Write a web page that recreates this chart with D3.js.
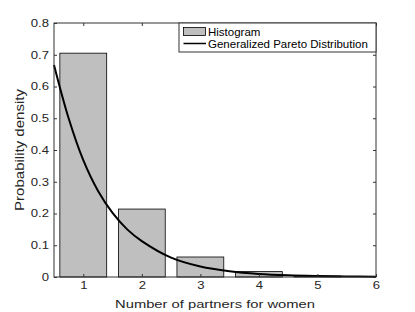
<!DOCTYPE html>
<html>
<head>
<meta charset="utf-8">
<script src="https://cdn.jsdelivr.net/npm/d3@7"></script>
<style>
  body { margin: 0; background: #fff; }
  svg { font-family: "Liberation Sans", Arial, sans-serif; }
</style>
</head>
<body>
<script>
// Chart data
const partners = [1, 2, 3, 4, 5];
const density = [0.705, 0.214, 0.063, 0.017, 0.003];
const binWidth = 0.8;

// Fitted generalized Pareto curve, sampled points
const fitX = [0.5, 0.75, 1.0, 1.25, 1.5, 1.75, 2.0, 2.5, 3.0, 3.5, 4.0, 4.5, 5.0, 5.5, 6.0];
const fitY = [0.668, 0.5, 0.368, 0.272, 0.202, 0.15, 0.113, 0.061, 0.033, 0.018, 0.0095, 0.0052, 0.003, 0.0017, 0.001];

const xTicks = [1, 2, 3, 4, 5, 6];
const yTicks = [0, 0.1, 0.2, 0.3, 0.4, 0.5, 0.6, 0.7, 0.8];

const width = 415;
const height = 312;
const margin = { top: 23, right: 39, bottom: 35, left: 54 };
const innerW = width - margin.left - margin.right;
const innerH = height - margin.top - margin.bottom;

const svg = d3.select("body")
  .append("svg")
  .attr("width", width)
  .attr("height", height);

const g = svg.append("g")
  .attr("transform", `translate(${margin.left},${margin.top})`);

const x = d3.scaleLinear().domain([0.5, 6]).range([0, innerW]);
const y = d3.scaleLinear().domain([0, 0.8]).range([innerH, 0]);

// Histogram bars
g.selectAll(".bar")
  .data(partners)
  .enter()
  .append("rect")
  .attr("class", "bar")
  .attr("x", (d) => x(d - binWidth / 2))
  .attr("y", (d, i) => y(density[i]))
  .attr("width", (d) => x(d + binWidth / 2) - x(d - binWidth / 2))
  .attr("height", (d, i) => y(0) - y(density[i]))
  .attr("fill", "#bfbfbf")
  .attr("stroke", "#000")
  .attr("stroke-width", 0.8);

// Fitted curve
const line = d3.line()
  .x((d) => x(d[0]))
  .y((d) => y(d[1]))
  .curve(d3.curveCatmullRom);

g.append("path")
  .datum(fitX.map((v, i) => [v, fitY[i]]))
  .attr("d", line)
  .attr("fill", "none")
  .attr("stroke", "#000")
  .attr("stroke-width", 2);

// Axes: ticks point inward on all four sides
const axisColor = "#333";
const fmtY = (d) => (d === 0 ? "0" : d3.format(".1f")(d));

const xAxis = g.append("g")
  .attr("transform", `translate(0,${innerH})`)
  .call(d3.axisBottom(x).tickValues(xTicks).tickSize(-3).tickPadding(5).tickFormat(d3.format("d")));
const xTop = g.append("g")
  .call(d3.axisTop(x).tickValues(xTicks).tickSize(-3).tickFormat(""));
const yAxis = g.append("g")
  .call(d3.axisLeft(y).tickValues(yTicks).tickSize(-3).tickPadding(4).tickFormat(fmtY));
const yRight = g.append("g")
  .attr("transform", `translate(${innerW},0)`)
  .call(d3.axisRight(y).tickValues(yTicks).tickSize(-3).tickFormat(""));

[xAxis, xTop, yAxis, yRight].forEach((a) => {
  a.select(".domain").remove();
  a.selectAll("line").attr("stroke", axisColor);
  a.selectAll("text")
    .attr("fill", "#262626")
    .attr("transform", "scale(1.25,1)") // the original glyphs are wide
    .style("font-size", "10.5px");
});

// Box around plot area
g.append("rect")
  .attr("width", innerW)
  .attr("height", innerH)
  .attr("fill", "none")
  .attr("stroke", axisColor)
  .attr("stroke-width", 1);

// Axis labels, stretched sideways to the width seen in the picture
function wideLabel(txt, size, len, cx, cy, angle) {
  const t = g.append("text")
    .attr("text-anchor", "middle")
    .attr("fill", "#262626")
    .style("font-size", size + "px")
    .text(txt);
  const k = len / t.node().getComputedTextLength();
  t.attr("transform", `translate(${cx},${cy}) rotate(${angle}) scale(${k},1)`);
}

wideLabel("Number of partners for women", 11.5, 200, innerW / 2, innerH + 31, 0);
wideLabel("Probability density", 12.6, 122, -29.7, innerH / 2, -90);

// Legend in the top right corner
const legendW = 197;
const legendH = 29;
const legend = g.append("g")
  .attr("transform", `translate(${innerW - legendW},0)`);

legend.append("rect")
  .attr("width", legendW)
  .attr("height", legendH)
  .attr("fill", "#fff")
  .attr("stroke", axisColor)
  .attr("stroke-width", 1);

legend.append("rect")
  .attr("x", 4.5)
  .attr("y", 4.5)
  .attr("width", 22)
  .attr("height", 8)
  .attr("fill", "#bfbfbf")
  .attr("stroke", "#000")
  .attr("stroke-width", 0.8);

legend.append("line")
  .attr("x1", 4.5)
  .attr("x2", 27)
  .attr("y1", 20.5)
  .attr("y2", 20.5)
  .attr("stroke", "#000")
  .attr("stroke-width", 1.5);

legend.selectAll(".lbl")
  .data(["Histogram", "Generalized Pareto Distribution"])
  .enter()
  .append("text")
  .attr("class", "lbl")
  .attr("x", 29)
  .attr("y", (d, i) => 8.7 + i * 12)
  .attr("dy", "0.35em")
  .attr("fill", "#000")
  .style("font-size", "11.5px")
  .text((d) => d);
</script>
</body>
</html>
